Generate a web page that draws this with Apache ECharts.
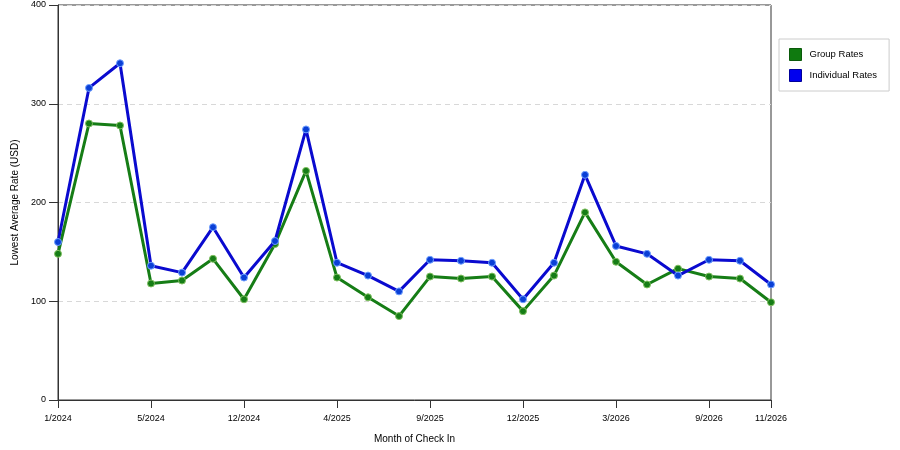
<!DOCTYPE html>
<html lang="en">
<head>
    <meta charset="UTF-8">
    <title>Lowest Average Rate</title>
    <script src="https://cdn.jsdelivr.net/npm/echarts@6/dist/echarts.min.js"></script>
    <style>
        html, body { margin: 0; padding: 0; background: #fff; }
        #main { width: 900px; height: 450px; }
    </style>
</head>
<body>
<div id="main"></div>
<script>
    var months = ['1/2024', '2/2024', '3/2024', '5/2024', '7/2024', '10/2024', '12/2024', '2/2025',
        '3/2025', '4/2025', '6/2025', '7/2025', '9/2025', '10/2025', '11/2025', '12/2025',
        '1/2026', '2/2026', '3/2026', '5/2026', '7/2026', '9/2026', '10/2026', '11/2026'];
    var groupRates = [148, 280, 278, 118, 121, 143, 102, 158, 232, 124, 104, 85,
        125, 123, 125, 90, 126, 190, 140, 117, 133, 125, 123, 99];
    var individualRates = [160, 316, 341, 136, 129, 175, 124, 161, 274, 139, 126, 110,
        142, 141, 139, 102, 139, 228, 156, 148, 126, 142, 141, 117];

    var font = 'Liberation Sans, Arial, sans-serif';
    var last = months.length - 1;
    function showTick(i) {
        return i % 3 === 0 || i === last;
    }

    var chart = echarts.init(document.getElementById('main'));
    var option = {
        animation: false,
        textStyle: { fontFamily: font },
        grid: {
            left: 58, right: 129, top: 5, bottom: 50,
            show: true, borderColor: '#333', borderWidth: 1
        },
        legend: {
            orient: 'vertical',
            left: 779, top: 39,
            padding: [9, 12, 9, 10],
            itemWidth: 12, itemHeight: 12, itemGap: 8,
            borderColor: '#ccc', borderWidth: 1,
            icon: 'rect',
            textStyle: { fontSize: 9.5, color: '#000', fontFamily: font, padding: [0, 0, 0, 3] },
            data: [
                { name: 'Group Rates', itemStyle: { color: '#0f7a0f', borderColor: '#0a5a0a', borderWidth: 1 } },
                { name: 'Individual Rates', itemStyle: { color: '#0000ee', borderColor: '#00009a', borderWidth: 1 } }
            ]
        },
        xAxis: {
            type: 'category',
            data: months,
            boundaryGap: false,
            name: 'Month of Check In',
            nameLocation: 'middle',
            nameGap: 34,
            nameTextStyle: { fontSize: 10, color: '#000', fontFamily: font },
            axisLine: { lineStyle: { color: '#333', width: 1 } },
            axisTick: { interval: function (i) { return showTick(i); }, length: 8, lineStyle: { color: '#333' } },
            axisLabel: {
                interval: function (i) { return showTick(i); },
                fontSize: 9, color: '#000', margin: 14, fontFamily: font
            },
            splitLine: { show: false }
        },
        yAxis: {
            type: 'value',
            min: 0, max: 400, interval: 100,
            name: 'Lowest Average Rate (USD)',
            nameLocation: 'middle',
            nameGap: 36,
            nameTextStyle: { fontSize: 10, color: '#000', fontFamily: font },
            axisLine: { show: true, lineStyle: { color: '#333', width: 1 } },
            axisTick: { show: true, length: 9, lineStyle: { color: '#333' } },
            axisLabel: { fontSize: 9, color: '#000', margin: 12, fontFamily: font },
            splitLine: { show: true, lineStyle: { color: '#d8d8d8', type: [5, 4] } }
        },
        series: [
            {
                name: 'Group Rates',
                type: 'line',
                data: groupRates,
                symbol: 'circle',
                symbolSize: 7,
                z: 2,
                lineStyle: { color: '#167d16', width: 3 },
                itemStyle: { color: '#167d16', borderColor: '#7fbf5f', borderWidth: 1 }
            },
            {
                name: 'Individual Rates',
                type: 'line',
                data: individualRates,
                symbol: 'circle',
                symbolSize: 7,
                z: 3,
                lineStyle: { color: '#0a0acf', width: 3 },
                itemStyle: { color: '#0a3fd6', borderColor: '#6f9fff', borderWidth: 1 }
            }
        ]
    };
    chart.setOption(option);
</script>
</body>
</html>
